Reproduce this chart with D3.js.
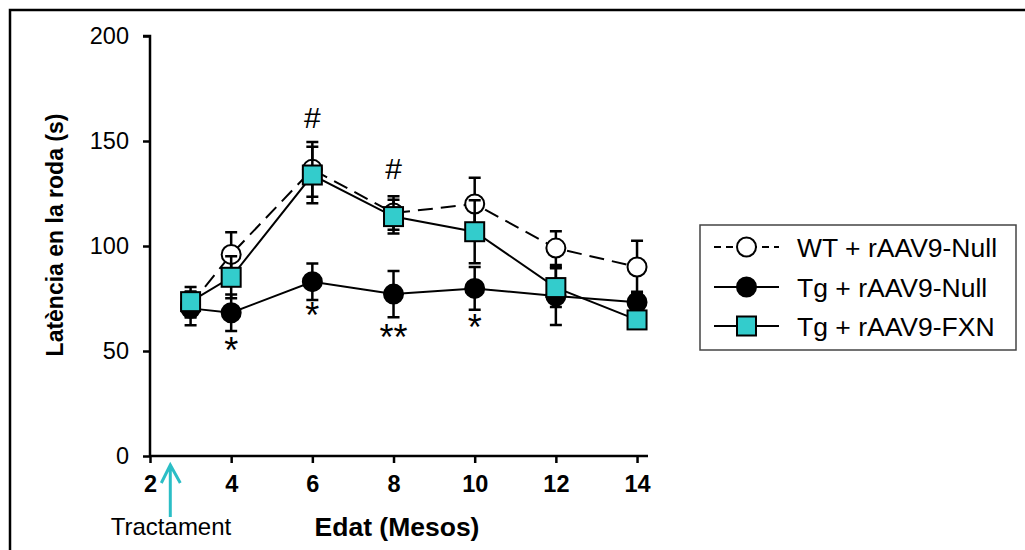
<!DOCTYPE html>
<html>
<head>
<meta charset="utf-8">
<script src="https://cdn.jsdelivr.net/npm/d3@7"></script>
<style>
  html, body { margin: 0; padding: 0; background: #fff; }
  svg { display: block; }
  text { font-family: "Liberation Sans", Arial, sans-serif; fill: #000; }
</style>
</head>
<body>
<svg id="chart" width="1025" height="550"></svg>
<script>
// Age (months) at each measurement
const months = [3, 4, 6, 8, 10, 12, 14];

// Mean latency (s) and SEM per group
const wtNullMean  = [72, 96, 136.5, 115.7, 120, 99, 90];
const wtNullSem   = [6, 10.5, 13, 8, 12.5, 8, 12.5];
const tgNullMean  = [70.3, 68.2, 83, 77.1, 79.8, 76.2, 73.2];
const tgNullSem   = [8, 8.7, 8.7, 11, 10.2, 13.8, 5];
const tgFxnMean   = [73.5, 85.1, 133.8, 114, 106.8, 80.2, 64.8];
const tgFxnSem    = [7, 10, 13.5, 8, 15, 9.2, 4];

const seriesNames = ["WT + rAAV9-Null", "Tg + rAAV9-Null", "Tg + rAAV9-FXN"];

const yTicks = [0, 50, 100, 150, 200];
const xTicks = [2, 4, 6, 8, 10, 12, 14];

// Significance marks: month, level (s) and symbol
const sigMonths = [6, 8, 4, 6, 8, 10];
const sigLevels = [161, 137, 53.8, 70.5, 60, 64.8];
const sigSymbols = ["#", "#", "*", "*", "**", "*"];

const teal = "#33CCCC";
const arrowTeal = "#2BBEC6";

const svg = d3.select("#chart");

// Outer frame
svg.append("rect")
  .attr("x", 10).attr("y", 10)
  .attr("width", 1040).attr("height", 560)
  .attr("fill", "none").attr("stroke", "#000").attr("stroke-width", 2.5);

const x = d3.scaleLinear().domain([2, 14.27]).range([150, 648]);
const y = d3.scaleLinear().domain([0, 200]).range([456, 36]);

// Axes
const yAxis = d3.axisLeft(y).tickValues(yTicks).tickSize(7).tickPadding(14);
const gy = svg.append("g").attr("transform", `translate(${x(2)},0)`).call(yAxis);
gy.select(".domain").attr("stroke-width", 2.5).attr("d", `M-7,${y(200)}H0V${y(0)}`);
gy.selectAll(".tick line").attr("stroke-width", 2.5);
gy.selectAll(".tick text")
  .attr("font-family", "'Liberation Sans', Arial, sans-serif")
  .attr("font-size", 23.5).attr("fill", "#222");

const xAxis = d3.axisBottom(x).tickValues(xTicks).tickSize(7).tickPadding(12);
const gx = svg.append("g").attr("transform", `translate(0,${y(0)})`).call(xAxis);
gx.select(".domain").attr("stroke-width", 2.5).attr("d", `M${x(2)},0H${x(14.27)}`);
gx.selectAll(".tick line").attr("stroke-width", 2.5);
gx.selectAll(".tick text")
  .attr("font-family", "'Liberation Sans', Arial, sans-serif")
  .attr("font-size", 23.5).attr("font-weight", "bold").attr("fill", "#000");

// Axis titles
svg.append("text")
  .attr("transform", `translate(55,235) rotate(-90)`)
  .attr("text-anchor", "middle").attr("dominant-baseline", "central")
  .attr("font-size", 23).attr("font-weight", "bold")
  .text("Latència en la roda (s)");

svg.append("text")
  .attr("x", 397).attr("y", 536)
  .attr("text-anchor", "middle")
  .attr("font-size", 26.5).attr("font-weight", "bold")
  .text("Edat (Mesos)");

// Treatment arrow and label
const arrowX = x(2.5);
svg.append("path")
  .attr("d", `M${arrowX},517V465M${arrowX - 9},483L${arrowX},465L${arrowX + 10},483`)
  .attr("fill", "none").attr("stroke", arrowTeal).attr("stroke-width", 3);
svg.append("text")
  .attr("x", 171).attr("y", 535)
  .attr("text-anchor", "middle")
  .attr("font-size", 24).attr("fill", "#222")
  .text("Tractament");

// Series definitions
const series = [
  { name: seriesNames[0], mean: wtNullMean, sem: wtNullSem, marker: "circle", fill: "#fff", dash: "15,8" },
  { name: seriesNames[1], mean: tgNullMean, sem: tgNullSem, marker: "circle", fill: "#000", dash: null },
  { name: seriesNames[2], mean: tgFxnMean, sem: tgFxnSem, marker: "square", fill: teal, dash: null }
];

const line = d3.line().x(d => x(d.m)).y(d => y(d.v));
const capHalf = 6;
const r = 9.5;
const sq = 19;

function drawMarker(g, type, fill, cx, cy) {
  if (type === "circle") {
    g.append("circle").attr("cx", cx).attr("cy", cy).attr("r", r)
      .attr("fill", fill).attr("stroke", "#000").attr("stroke-width", 2);
  } else {
    g.append("rect").attr("x", cx - sq / 2).attr("y", cy - sq / 2)
      .attr("width", sq).attr("height", sq)
      .attr("fill", fill).attr("stroke", "#000").attr("stroke-width", 2);
  }
}

series.forEach(s => {
  const pts = months.map((m, i) => ({ m, v: s.mean[i], e: s.sem[i] }));
  const g = svg.append("g");

  // error bars
  pts.forEach(p => {
    const xp = x(p.m);
    const top = y(p.v + p.e), bot = y(p.v - p.e);
    g.append("path")
      .attr("d", `M${xp},${top}V${bot}M${xp - capHalf},${top}H${xp + capHalf}M${xp - capHalf},${bot}H${xp + capHalf}`)
      .attr("fill", "none").attr("stroke", "#000").attr("stroke-width", 2.5);
  });

  // connecting line
  g.append("path").datum(pts).attr("d", line)
    .attr("fill", "none").attr("stroke", "#000").attr("stroke-width", 2)
    .attr("stroke-dasharray", s.dash);

  // markers
  pts.forEach(p => drawMarker(g, s.marker, s.fill, x(p.m), y(p.v)));
});

// Significance symbols
sigSymbols.forEach((sym, i) => {
  const cx = x(sigMonths[i]);
  const cy = y(sigLevels[i]);
  if (sym === "#") {
    svg.append("text").attr("x", cx).attr("y", cy + 10.5)
      .attr("text-anchor", "middle").attr("font-size", 30).text(sym);
  } else {
    svg.append("text").attr("x", cx).attr("y", cy + 20)
      .attr("text-anchor", "middle").attr("font-size", 36).text(sym);
  }
});

// Legend
const legend = svg.append("g");
legend.append("rect")
  .attr("x", 700).attr("y", 225).attr("width", 316).attr("height", 125)
  .attr("fill", "#fff").attr("stroke", "#444").attr("stroke-width", 1.5);

const rowY = [247, 287, 326];
series.forEach((s, i) => {
  const ly = rowY[i];
  legend.append("line")
    .attr("x1", 714).attr("x2", 779).attr("y1", ly).attr("y2", ly)
    .attr("stroke", "#000").attr("stroke-width", 2)
    .attr("stroke-dasharray", s.dash ? "7,5" : null);
  drawMarker(legend, s.marker, s.fill, 746.5, ly);
  legend.append("text")
    .attr("x", 797).attr("y", ly + 9.5)
    .attr("font-size", 26.5).attr("fill", "#222")
    .text(s.name);
});
</script>
</body>
</html>
